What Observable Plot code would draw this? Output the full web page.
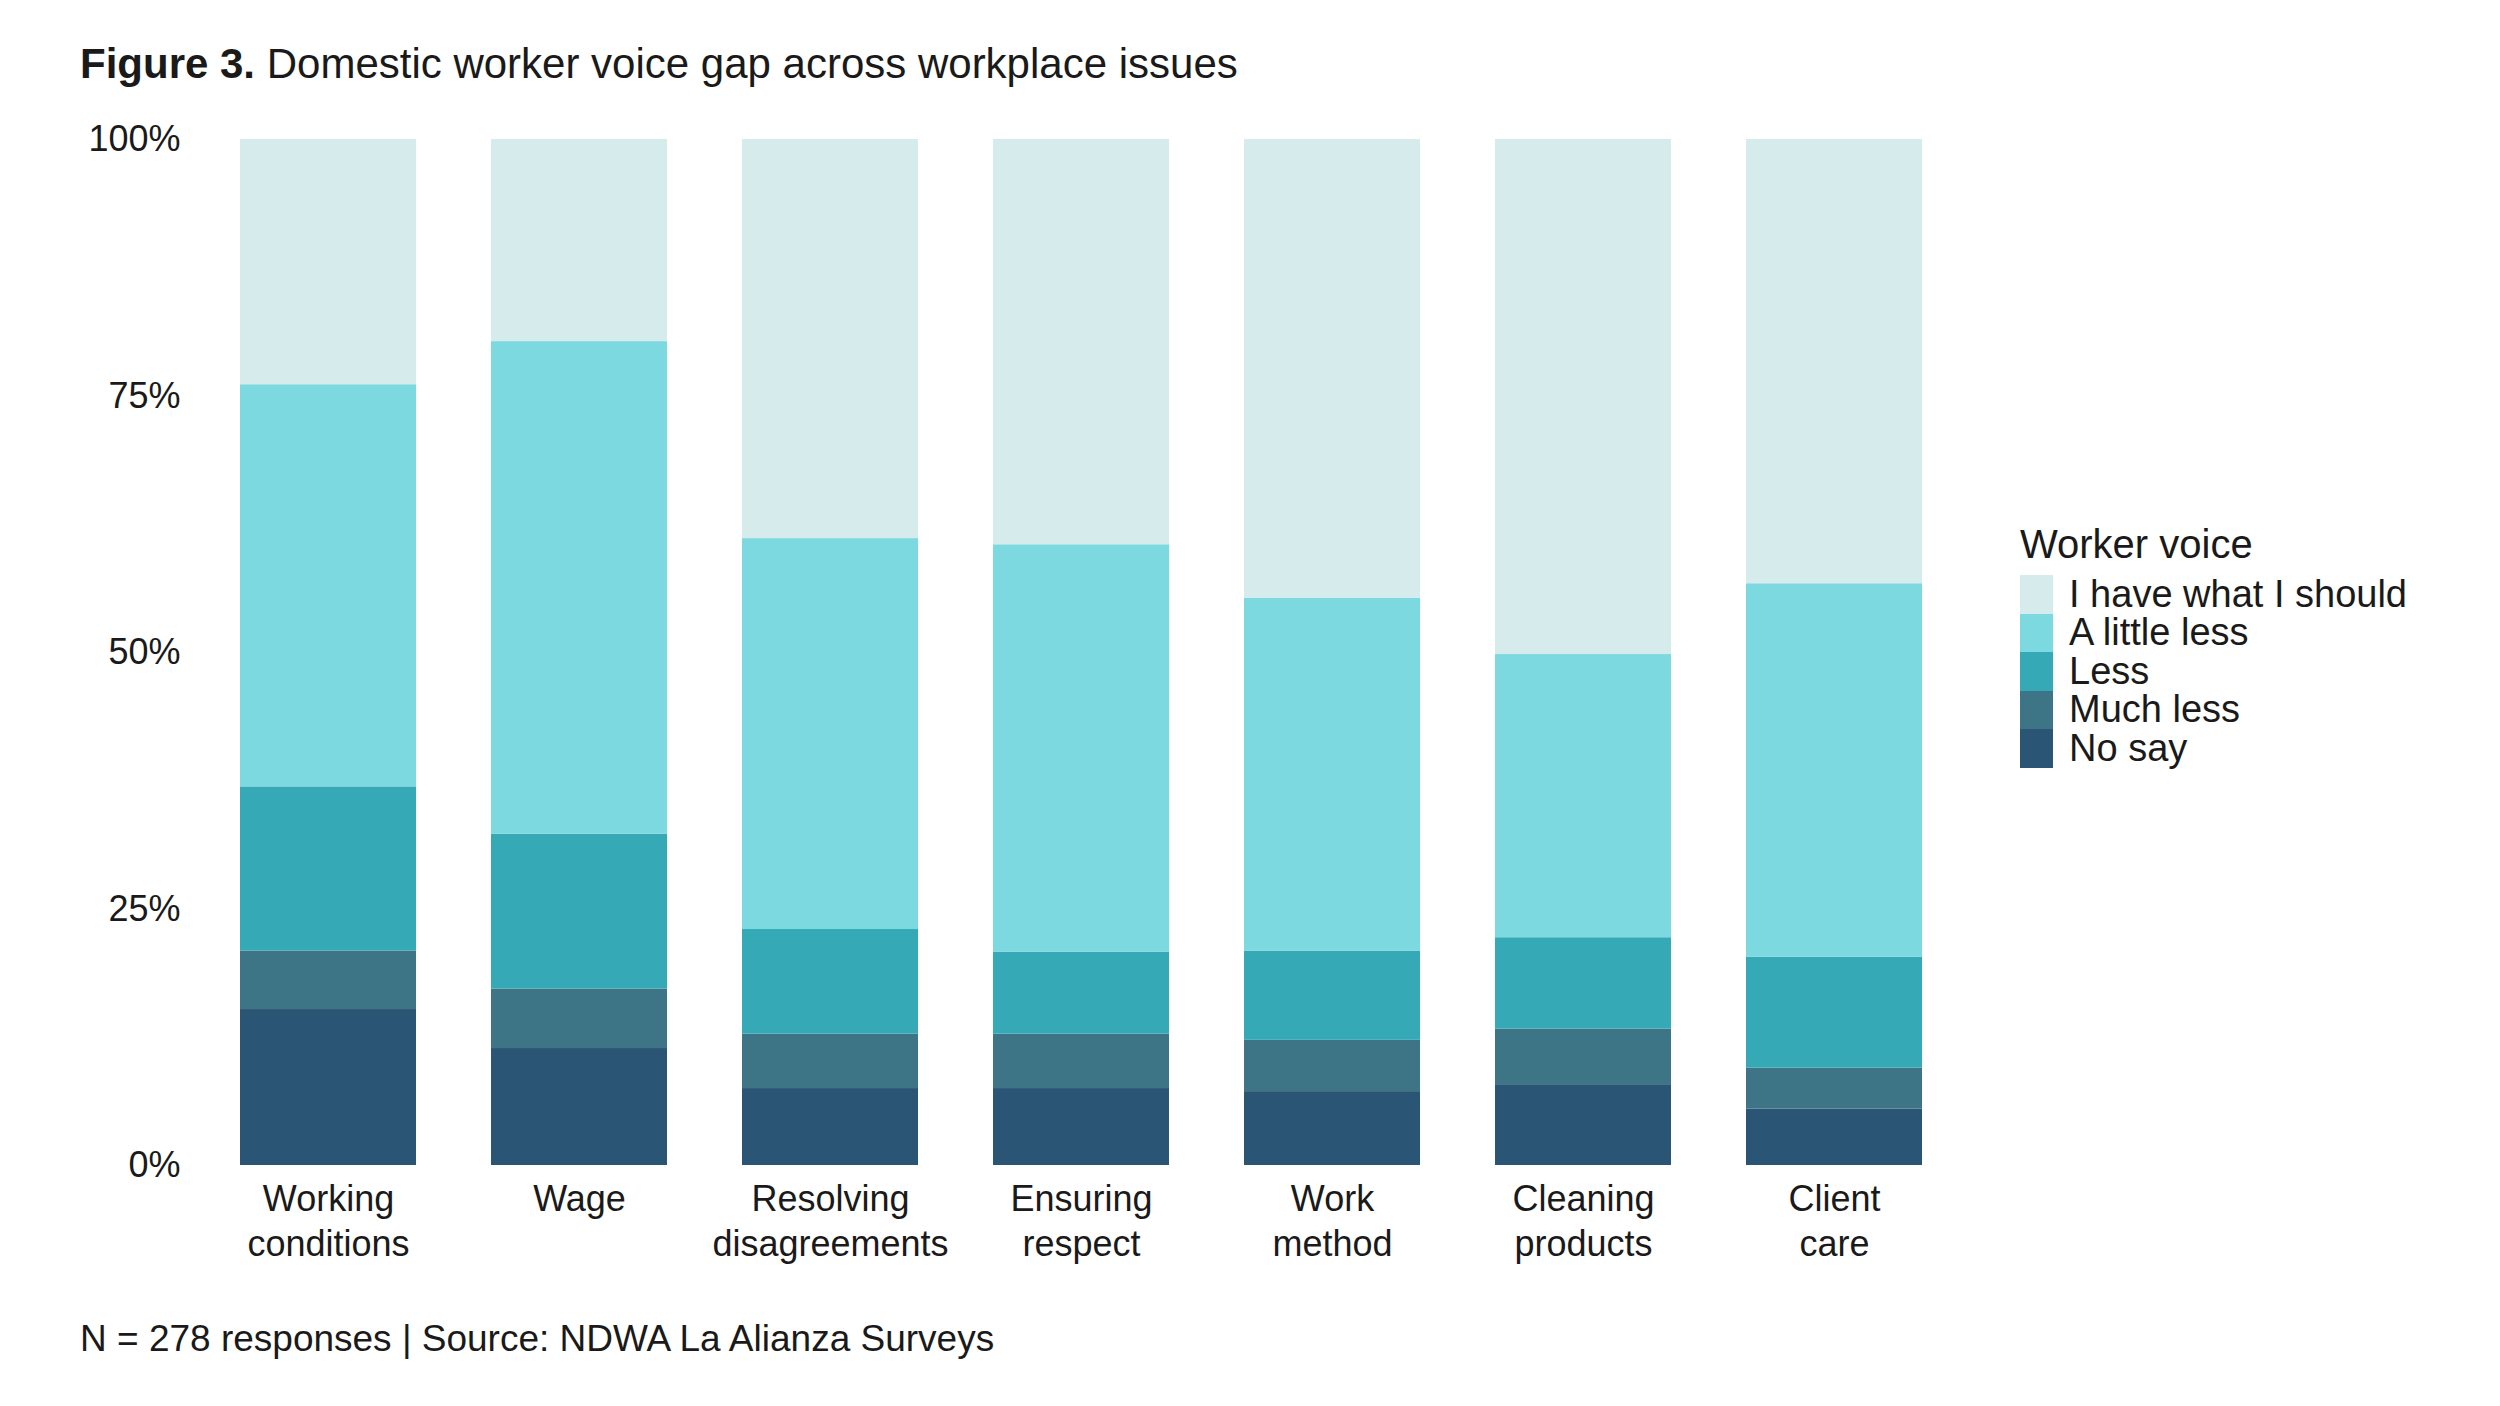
<!DOCTYPE html>
<html><head><meta charset="utf-8">
<script src="https://cdn.jsdelivr.net/npm/d3@7"></script>
<script src="https://cdn.jsdelivr.net/npm/@observablehq/plot@0.6"></script>
<style>
body{margin:0;background:#fff;font-family:"Liberation Sans",Arial,sans-serif;color:#1a1a1a;}
#wrap{position:relative;width:2500px;height:1406px;}
#title{position:absolute;left:80px;top:40px;font-size:42px;}
#cap{position:absolute;left:80px;top:1318px;font-size:37px;}
#chart{position:absolute;left:0;top:0;}
#legend{position:absolute;left:2020px;top:522px;font-size:38px;}
.li{display:flex;align-items:center;height:38.5px;}
.sw{width:33px;height:38.5px;margin-right:16px;}
</style></head><body>
<div id="wrap">
<div id="title"><b>Figure 3.</b> Domestic worker voice gap across workplace issues</div>
<div id="chart"></div>
<div id="legend"><div style="font-size:40px;margin-bottom:8px">Worker voice</div></div>
<div id="cap">N = 278 responses | Source: NDWA La Alianza Surveys</div>
</div>
<script>
const issues = ["Working\nconditions","Wage","Resolving\ndisagreements","Ensuring\nrespect","Work\nmethod","Cleaning\nproducts","Client\ncare"];
const levels = ["No say","Much less","Less","A little less","I have what I should"];
const colors = ["#2b5574","#3d7587","#35aab6","#7bd9df","#d6ebec"];
const noSay      = [15.2,11.4,7.5,7.5,7.2,7.8,5.5];
const muchLess   = [5.7,5.8,5.3,5.3,5.0,5.5,4.0];
const less       = [16.0,15.1,10.2,8.0,8.7,8.9,10.8];
const littleLess = [39.2,48.0,38.1,39.7,34.4,27.6,36.4];
const series = [noSay,muchLess,less,littleLess];
const data = [];
issues.forEach((iss,i)=>{
  let sum=0;
  series.forEach((s,k)=>{data.push({issue:iss,level:levels[k],value:s[i]});sum+=s[i];});
  data.push({issue:iss,level:levels[4],value:100-sum});
});
const chart = Plot.plot({
  width:2000,height:1300,marginLeft:200,marginRight:39,marginTop:139,marginBottom:135,
  style:{fontFamily:"Liberation Sans, Arial, sans-serif",fontSize:"36px",color:"#1a1a1a",background:"transparent"},
  x:{domain:issues,paddingInner:0.3,paddingOuter:0.15,label:null},
  y:{domain:[0,100],label:null},
  color:{domain:levels,range:colors},
  marks:[
    Plot.barY(data,Plot.stackY({x:"issue",y:"value",fill:"level",order:levels})),
    Plot.axisY({ticks:[0,25,50,75,100],tickFormat:d=>d+"%",tickSize:0,tickPadding:20,fontSize:36,label:null}),
    Plot.axisX({tickSize:0,tickPadding:14,fontSize:36,lineHeight:1.25,label:null})
  ]
});
document.getElementById("chart").appendChild(chart);
const lg=document.getElementById("legend");
[...levels].reverse().forEach((l,i)=>{
  const d=document.createElement("div");d.className="li";
  d.innerHTML=`<div class="sw" style="background:${colors[4-i]}"></div><span>${l}</span>`;
  lg.appendChild(d);
});
</script></body></html>
